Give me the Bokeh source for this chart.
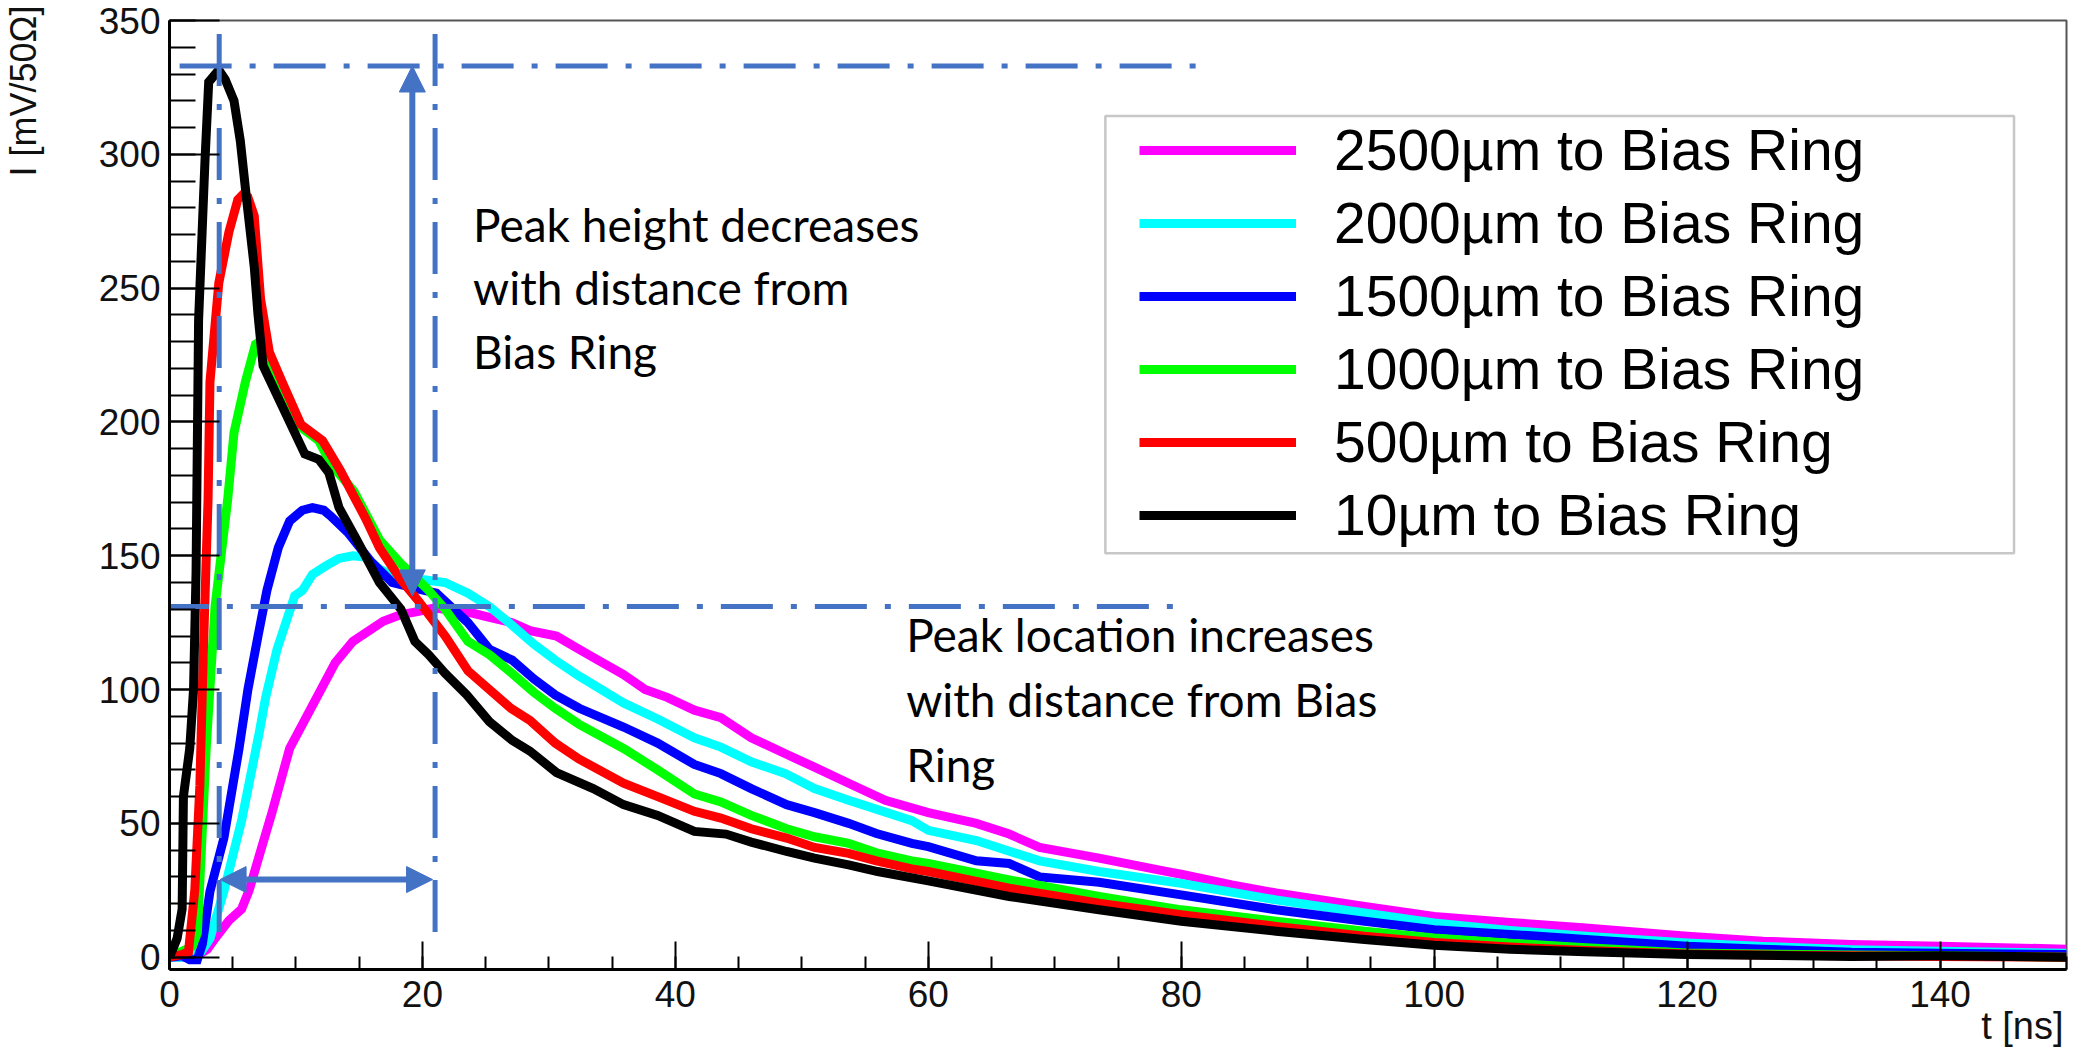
import math
from bokeh.plotting import figure
from bokeh.models import (FixedTicker, Legend, LegendItem, BoxAnnotation, Label,
                          Arrow, NormalHead, Range1d, Title)
from bokeh.embed import file_html
from bokeh.resources import INLINE

# ---------------- data ----------------
labels = ["2500µm to Bias Ring", "2000µm to Bias Ring", "1500µm to Bias Ring",
          "1000µm to Bias Ring", "500µm to Bias Ring", "10µm to Bias Ring"]
colors = ["#FF00FF", "#00FFFF", "#0000FF", "#00FF00", "#FF0000", "#000000"]

t_2500 = [0, 2.0, 3.0, 3.6, 4.7, 5.7, 6.3, 7.1, 8.1, 9.5, 11.3, 13.1, 14.5, 16.9, 18.3, 19.5,
          21.0, 22.5, 24.0, 25.3, 27.1, 28.5, 30.6, 32.4, 33.5, 35.9, 37.6, 39.4, 41.5, 43.6,
          46.0, 48.7, 51.0, 53.7, 56.6, 60.0, 63.8, 66.4, 68.8, 73.5, 78.9, 80.0, 84.0, 87.5,
          94.5, 100.0, 106.0, 112.0, 120.0, 126.0, 133.0, 140.0, 150.0]
I_2500 = [0, 0, 3, 7, 13.7, 18, 25, 38, 54, 78, 94, 110, 118, 125.5, 128, 129,
          130.5, 129.5, 128.5, 127, 125, 122, 120, 115, 112, 105.6, 100, 97, 92.3, 89.5,
          82, 76, 71, 65, 58.6, 54, 50, 46, 41, 37, 32, 31, 27, 24,
          19, 15.2, 13, 10.9, 7.8, 6, 4.7, 4.1, 3]

t_2000 = [0, 1.5, 2.5, 3.2, 4.3, 5.7, 7.1, 7.6, 8.5, 9.2, 9.9, 10.5, 11.3, 12.3, 13.4, 14.5,
          15.5, 16.6, 17.5, 19.0, 20.1, 21.8, 23.6, 25.3, 27.1, 28.8, 30.5, 32.4, 35.9, 38.6,
          41.5, 43.6, 46.0, 48.7, 51.0, 53.7, 58.7, 60.0, 63.8, 68.8, 73.5, 80.0, 87.5, 94.5,
          100.0, 106.0, 112.0, 120.0, 126.0, 133.0, 140.0, 150.0]
I_2000 = [0, 0, 2, 7, 24.6, 51, 84, 97, 115, 125, 135, 137, 143, 146, 149, 150,
          149.5, 145, 143, 142, 141, 140, 136, 131, 124, 117, 111, 105, 95, 89,
          82, 78.5, 73, 68.6, 63, 58.6, 51, 47.4, 43.6, 36, 32, 27.6, 21.4, 16.5,
          12.8, 10, 7.8, 5.3, 4, 2.8, 2.2, 1.5]

t_1500 = [0, 1.0, 1.6, 2.2, 2.6, 3.2, 4.3, 5.5, 6.2, 7.0, 7.7, 8.6, 9.5, 10.5, 11.3, 12.2,
          12.7, 14.1, 15.9, 17.6, 19.7, 21.1, 23.6, 25.3, 27.1, 28.8, 30.5, 32.4, 35.9, 38.6,
          41.5, 43.6, 46.0, 48.8, 51.0, 53.7, 55.9, 58.7, 60.0, 63.8, 66.4, 68.8, 73.5, 80.0,
          87.5, 94.5, 100.0, 106.0, 112.0, 120.0, 126.0, 133.0, 140.0, 150.0]
I_1500 = [0, 0.5, -1, -1, 5, 24.6, 44.5, 78, 100, 120, 137, 153, 163, 167, 168, 167,
          165, 158.7, 148, 140, 137.5, 136, 125, 115, 111, 104, 98, 93, 86, 80,
          72, 68.6, 63, 57, 54, 50, 46.2, 42.5, 41.3, 36, 35, 30, 28, 23.3,
          17.7, 13.4, 10.3, 8.5, 6.6, 4.1, 3, 1.8, 1.5, 1]

t_1000 = [0, 1.1, 1.8, 2.2, 2.5, 2.9, 3.6, 4.6, 5.1, 6.0, 6.8, 7.1, 7.9, 8.9, 10.4, 11.8,
          12.8, 14.6, 16.6, 18.3, 20.4, 21.8, 23.6, 25.3, 27.1, 28.8, 30.5, 32.4, 35.9, 38.6,
          41.5, 43.6, 46.0, 48.8, 51.0, 53.7, 55.9, 58.7, 60.0, 66.4, 73.5, 80.0, 87.5, 94.5,
          100.0, 106.0, 112.0, 120.0, 126.0, 133.0, 140.0, 150.0]
I_1000 = [0, 2.5, 4, 9, 38, 78, 131, 171, 196, 215, 229, 230, 221, 209, 198, 193,
          184, 174, 156, 147, 137.5, 130, 118, 113, 106, 99, 93, 87, 78, 70,
          61, 58, 53, 48, 45, 42.5, 39, 36, 35, 28.9, 22.7, 17.7, 13.4, 9.7,
          7.2, 5.2, 3.5, 1.6, 1.2, 0.8, 0.5, 0]

t_500 = [0, 1.0, 1.5, 2.0, 2.4, 2.7, 3.05, 3.2, 3.9, 4.7, 5.4, 5.8, 6.2, 6.7, 7.2, 7.9,
         8.9, 10.4, 12.1, 13.5, 14.6, 15.5, 16.6, 18.3, 19.7, 21.8, 23.6, 25.3, 27.0, 28.5,
         30.5, 32.4, 35.9, 38.6, 41.5, 43.6, 46.0, 48.8, 51.0, 53.7, 55.9, 58.7, 60.0, 66.4,
         73.5, 80.0, 87.5, 94.5, 100.0, 106.0, 112.0, 120.0, 126.0, 133.0, 140.0, 150.0]
I_500 = [0, 1, 2, 25, 64, 118, 171, 215, 252, 271, 283, 285, 284, 277, 246, 226,
         215, 199, 193, 182, 172, 164, 153, 141, 133, 120, 107, 100, 93, 88.5,
         80, 74, 65, 60, 54.5, 52, 48, 44.5, 41, 38.8, 36, 33, 32, 25.8,
         20.2, 15.9, 11.5, 7.8, 5.5, 3.8, 2.5, 1.2, 0.8, 0.5, 0.3, 0]

t_10 = [0, 0.6, 1.0, 1.1, 1.6, 1.9, 2.1, 2.3, 2.8, 3.1, 3.9, 4.4, 5.1, 5.6, 6.1, 6.7,
        7.0, 7.4, 8.6, 9.6, 10.7, 11.8, 12.6, 13.4, 14.8, 16.6, 18.3, 19.4, 20.5, 21.8,
        23.5, 25.3, 27.1, 28.5, 30.6, 33.5, 35.9, 38.6, 41.5, 44.0, 46.0, 48.8, 51.0, 53.7,
        56.0, 60.0, 66.4, 73.5, 80.0, 87.5, 94.5, 100.0, 106.0, 112.0, 120.0, 133.0, 140.0, 150.0]
I_10 = [0, 7, 18, 60, 78, 100, 144, 238, 297, 327, 331.5, 328, 320, 305, 283, 258,
        240, 221, 209, 199, 188, 186, 181, 168, 156, 140, 130, 118, 113, 106,
        98, 88, 81, 77, 69, 63, 57, 53, 47, 46, 43, 39.5, 37, 34.5,
        32, 28.5, 22.7, 17.7, 13.4, 9.7, 6.6, 4.5, 3, 2, 1, 0.3, 0.5, 0]

series_t = [t_2500, t_2000, t_1500, t_1000, t_500, t_10]
series_I = [I_2500, I_2000, I_1500, I_1000, I_500, I_10]

x_ticks = [0, 20, 40, 60, 80, 100, 120, 140]
y_ticks = [0, 50, 100, 150, 200, 250, 300, 350]
x_title = "t [ns]"
y_title = "I [mV/50Ω]"

# ---------------- figure ----------------
p = figure(width=2082, height=1057, output_backend="svg", toolbar_location=None,
           x_range=Range1d(0, 150), y_range=Range1d(-4.6, 350),
           min_border_left=167, min_border_right=16, min_border_top=20, min_border_bottom=88)
p.xgrid.visible = False
p.ygrid.visible = False
p.background_fill_color = "white"
p.border_fill_color = "white"
p.outline_line_color = "#555555"
p.outline_line_width = 2

FONT = "Liberation Sans"
p.xaxis.ticker = FixedTicker(ticks=x_ticks, minor_ticks=list(range(0, 151, 5)))
p.yaxis.ticker = FixedTicker(ticks=y_ticks, minor_ticks=list(range(0, 351, 10)))
for ax in (p.xaxis, p.yaxis):
    ax.axis_line_width = 3
    ax.axis_line_color = "black"
    ax.major_tick_out = 0
    ax.minor_tick_out = 0
    ax.major_tick_line_width = 2
    ax.minor_tick_line_width = 2
    ax.major_label_text_font = FONT
    ax.major_label_text_font_size = "37px"
    ax.major_label_text_color = "#111111"
p.xaxis.major_tick_in = 28
p.xaxis.minor_tick_in = 13
p.yaxis.major_tick_in = 50
p.yaxis.minor_tick_in = 26
p.xaxis.major_label_standoff = 11
p.yaxis.major_label_standoff = 9
# spacer so that the y title sits near the left edge of the canvas, as in ROOT
p.yaxis.axis_label = " "
p.yaxis.axis_label_text_font_size = "1px"
p.yaxis.axis_label_standoff = 48

# axis titles (ROOT style: at the far end of each axis)
p.add_layout(Title(text=y_title, align="right", vertical_align="bottom", offset=-15,
                   standoff=0, text_font=FONT, text_font_size="36px",
                   text_font_style="normal", text_color="#111111"), "left")
p.add_layout(Title(text=x_title, align="right", vertical_align="top", offset=3,
                   standoff=-10, text_font=FONT, text_font_size="38px",
                   text_font_style="normal", text_color="#111111"), "below")

# ---------------- curves ----------------
items = []
for name, col, tt, ii in zip(labels, colors, series_t, series_I):
    r = p.line(tt, ii, line_color=col, line_width=9, line_join="miter")
    items.append(LegendItem(label=name, renderers=[r]))

# ---------------- legend ----------------
box = BoxAnnotation(left=74.0, right=145.85, top=314.3, bottom=150.9,
                    fill_color="white", fill_alpha=1.0,
                    line_color="#444444", line_width=2.5)
p.add_layout(box)
legend = Legend(items=items, location=(970, 421), padding=0, spacing=7,
                glyph_width=157, glyph_height=66, label_height=66, label_standoff=38,
                label_text_font=FONT, label_text_font_size="57px", label_text_color="black",
                border_line_color=None, background_fill_alpha=0, margin=0)
p.add_layout(legend)

# ---------------- overlay annotations ----------------
BLUE = "#4472C4"
DASH = "52 18 6 18"
p.line([0.8, 82.3], [333, 333], line_color=BLUE, line_width=5, line_dash=DASH)
p.line([-1.0, 80.2], [131, 131], line_color=BLUE, line_width=5, line_dash=DASH)
p.line([3.93, 3.93], [345, 5], line_color=BLUE, line_width=5, line_dash=DASH)
p.line([21.0, 21.0], [345, 5], line_color=BLUE, line_width=5, line_dash=DASH)

p.add_layout(Arrow(start=NormalHead(size=26, fill_color=BLUE, line_color=BLUE),
                   end=NormalHead(size=26, fill_color=BLUE, line_color=BLUE),
                   x_start=19.2, y_start=135, x_end=19.2, y_end=333,
                   line_color=BLUE, line_width=6))
p.add_layout(Arrow(start=NormalHead(size=26, fill_color=BLUE, line_color=BLUE),
                   end=NormalHead(size=26, fill_color=BLUE, line_color=BLUE),
                   x_start=4.0, y_start=29, x_end=20.8, y_end=29,
                   line_color=BLUE, line_width=6))

AFONT = "Lato"
for txt, yy in [("Peak height decreases", 273.7), ("with distance from", 250.1),
                ("Bias Ring", 226.5)]:
    p.add_layout(Label(x=24.0, y=yy, text=txt, text_align="left", text_baseline="alphabetic",
                       text_font=AFONT, text_font_size="46px", text_color="black"))
for txt, yy in [("Peak location increases", 120.5), ("with distance from Bias", 96.2),
                ("Ring", 71.9)]:
    p.add_layout(Label(x=58.25, y=yy, text=txt, text_align="left", text_baseline="alphabetic",
                       text_font=AFONT, text_font_size="46px", text_color="black"))

open("out.html", "w").write(file_html(p, INLINE))
